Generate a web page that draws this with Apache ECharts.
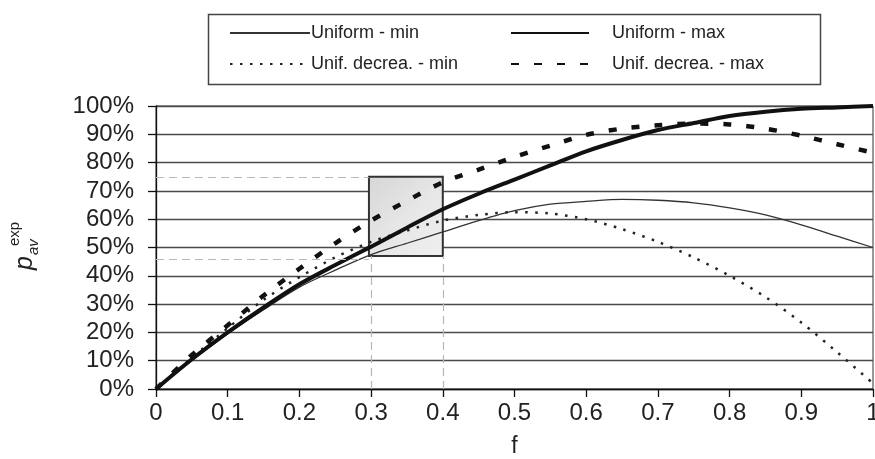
<!DOCTYPE html>
<html>
<head>
<meta charset="utf-8">
<script src="https://cdn.jsdelivr.net/npm/echarts@6/dist/echarts.min.js"></script>
<style>
html,body{margin:0;padding:0;background:#fff;}
#chart{width:875px;height:459px;}
</style>
</head>
<body>
<div id="chart"></div>
<script>
// ---- data ----
const fVals = [0, 0.05, 0.1, 0.15, 0.2, 0.25, 0.3, 0.35, 0.4, 0.45, 0.5, 0.55, 0.6, 0.65, 0.7, 0.75, 0.8, 0.85, 0.9, 0.95, 1];
const uniformMin = [0, 10, 19.5, 28, 36, 42, 47.5, 51.5, 55.5, 59.5, 63, 65.3, 66.3, 67, 66.7, 65.8, 64, 61.5, 58, 54, 50];
const uniformMax = [0, 10.5, 20, 28.8, 37, 43.8, 50.3, 57, 63.5, 69, 74, 79, 84, 88, 91.5, 94, 96.5, 98, 99, 99.5, 100];
const decrMin = [0, 11, 21.5, 31.5, 39.5, 46.5, 52, 56, 59.5, 61.5, 62.5, 62, 60, 56.5, 52, 46.5, 40, 32.5, 23.5, 13, 2];
const decrMax = [0, 12, 22.5, 33, 42.5, 51.5, 59.5, 66.5, 73, 77.5, 82, 86, 89.8, 92, 93.2, 93.8, 93.5, 92, 89.5, 86.5, 83.5];
const seriesNames = ['Uniform - min', 'Uniform - max', 'Unif. decrea. - min', 'Unif. decrea. - max'];
const xTickLabels = ['0', '0.1', '0.2', '0.3', '0.4', '0.5', '0.6', '0.7', '0.8', '0.9', '1'];
const boxX = [0.297, 0.4];
const boxY = [47, 75];
const refLevelsY = [75, 46];

const pairs = ys => fVals.map((x, i) => [x, ys[i]]);
const FONT = 'Liberation Sans, Arial, sans-serif';
const TXT = '#222';

const chart = echarts.init(document.getElementById('chart'), null, {renderer: 'canvas'});

const refDash = {color: '#b8b8b8', type: [8, 5], width: 1.2};

chart.setOption({
  animation: false,
  backgroundColor: '#fff',
  grid: {left: 156, right: 2, top: 106, bottom: 70, show: true, borderColor: '#333', borderWidth: 1,
         containLabel: false, outerBoundsMode: 'none'},
  xAxis: {
    type: 'value', min: 0, max: 1, interval: 0.1,
    axisLine: {show: true, onZero: false, lineStyle: {color: '#111', width: 1.3}},
    axisTick: {show: true, inside: false, length: 8, lineStyle: {color: '#111', width: 1.3}},
    splitLine: {show: false},
    axisLabel: {
      margin: 12, fontSize: 24, fontFamily: FONT, color: TXT,
      formatter: v => xTickLabels[Math.round(v * 10)]
    },
    name: 'f', nameLocation: 'middle', nameGap: 46,
    nameTextStyle: {fontSize: 23, fontFamily: FONT, color: TXT}
  },
  yAxis: {
    type: 'value', min: 0, max: 100, interval: 10,
    axisLine: {show: true, lineStyle: {color: '#111', width: 1.3}},
    axisTick: {show: true, inside: false, length: 8, lineStyle: {color: '#111', width: 1.3}},
    splitLine: {show: true, lineStyle: {color: '#4a4a4a', width: 1.3}},
    axisLabel: {margin: 22, fontSize: 24, fontFamily: FONT, color: TXT, formatter: '{value}%'}
  },
  legend: [
    {
      data: [seriesNames[0], seriesNames[2]],
      orient: 'vertical', left: 224, top: 19,
      itemWidth: 80, itemHeight: 14, itemGap: 13,
      itemStyle: {opacity: 0},
      textStyle: {fontSize: 18, fontFamily: FONT, color: TXT, lineHeight: 18, padding: [0, 0, 0, -4]}
    },
    {
      data: [seriesNames[1], seriesNames[3]],
      orient: 'vertical', left: 505, top: 19,
      itemWidth: 78, itemHeight: 14, itemGap: 13,
      itemStyle: {opacity: 0},
      textStyle: {fontSize: 18, fontFamily: FONT, color: TXT, lineHeight: 18, padding: [0, 0, 0, 18]}
    }
  ],
  graphic: [
    {
      type: 'rect', left: 206, top: 12, z: 0,
      shape: {width: 612, height: 70},
      style: {fill: 'none', stroke: '#444', lineWidth: 1.5}
    },
    {
      type: 'group', x: 25, y: 270, rotation: Math.PI / 2,
      children: [
        {type: 'text', x: 0, y: 0, style: {text: 'p', font: 'italic 25px ' + FONT, fill: TXT, textAlign: 'left', textVerticalAlign: 'middle', verticalAlign: 'middle'}},
        {type: 'text', x: 24, y: -10, style: {text: 'exp', font: '15px ' + FONT, fill: TXT, textAlign: 'left', textVerticalAlign: 'middle', verticalAlign: 'middle'}},
        {type: 'text', x: 15, y: 9, style: {text: 'av', font: 'italic 15px ' + FONT, fill: TXT, textAlign: 'left', textVerticalAlign: 'middle', verticalAlign: 'middle'}}
      ]
    }
  ],
  series: [
    {
      name: '_ref', type: 'line', data: [], z: 1, silent: true,
      markLine: {
        silent: true, symbol: 'none', label: {show: false}, lineStyle: refDash,
        data: [
          [{coord: [0, refLevelsY[0]]}, {coord: [boxX[0], refLevelsY[0]]}],
          [{coord: [0, refLevelsY[1]]}, {coord: [boxX[0], refLevelsY[1]]}],
          [{coord: [0.3, 0]}, {coord: [0.3, boxY[0]]}],
          [{coord: [boxX[1], 0]}, {coord: [boxX[1], boxY[0]]}]
        ]
      },
      markArea: {
        silent: true, label: {show: false},
        itemStyle: {
          color: {type: 'linear', x: 0, y: 0, x2: 1, y2: 1, colorStops: [
            {offset: 0, color: '#d6d6d6'}, {offset: 0.5, color: '#e6e6e6'}, {offset: 1, color: '#f0f0f0'}
          ]},
          borderColor: '#333', borderWidth: 2
        },
        data: [[{coord: [boxX[0], boxY[1]]}, {coord: [boxX[1], boxY[0]]}]]
      }
    },
    {
      name: seriesNames[0], type: 'line', data: pairs(uniformMin), smooth: 0.3, symbol: 'none', z: 3,
      lineStyle: {color: '#333', width: 1.3, type: 'solid'}, itemStyle: {color: '#333'}
    },
    {
      name: seriesNames[1], type: 'line', data: pairs(uniformMax), smooth: 0.3, symbol: 'none', z: 4,
      lineStyle: {color: '#111', width: 4, type: 'solid'}, itemStyle: {color: '#111'}
    },
    {
      name: seriesNames[2], type: 'line', data: pairs(decrMin), smooth: 0.3, symbol: 'none', z: 3,
      lineStyle: {color: '#222', width: 2.5, type: [2.5, 7.5]}, itemStyle: {color: '#222'}
    },
    {
      name: seriesNames[3], type: 'line', data: pairs(decrMax), smooth: 0.3, symbol: 'none', z: 3,
      lineStyle: {color: '#111', width: 4.5, type: [8, 15]}, itemStyle: {color: '#111'}
    }
  ]
});
</script>
</body>
</html>
